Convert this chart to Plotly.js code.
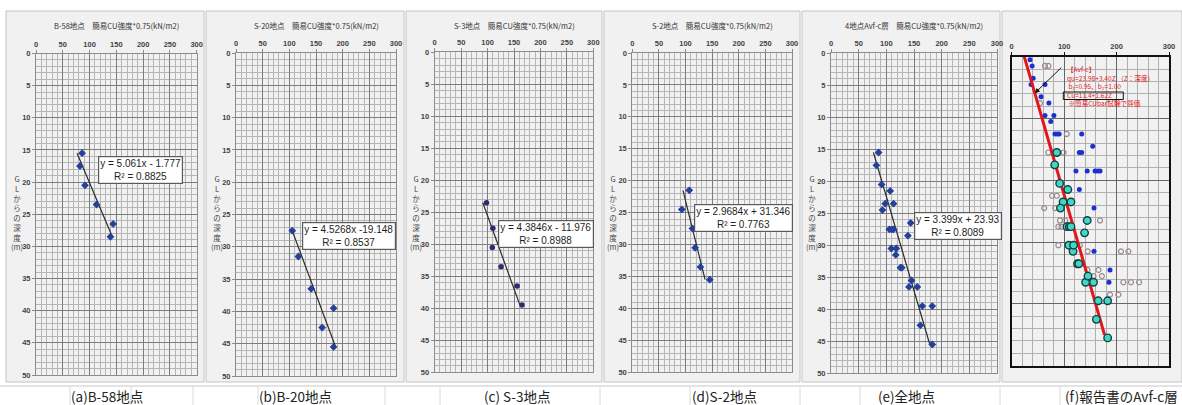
<!DOCTYPE html>
<html>
<head>
<meta charset="utf-8">
<script src="https://cdn.plot.ly/plotly-3.0.1.min.js"></script>
<style>
html,body{margin:0;padding:0;background:#ffffff;}
#chart{width:1182px;height:405px;}
</style>
</head>
<body>
<div id="chart"></div>
<script>
// ---- Simple CU strength (kN/m2) vs depth below GL (m), per boring ----
const depthA = [15.5, 17.5, 20.5, 23.5, 26.5, 28.5];
const cuA    = [86, 82, 91.5, 113, 144, 139];
const depthB = [27.5, 31.5, 36.5, 39.5, 42.5, 45.5];
const cuB    = [105.5, 117, 141, 183, 161.5, 183];
const depthC = [23.5, 27.5, 30.5, 33.5, 36.5, 39.5];
const cuC    = [98, 110, 109, 125.5, 156, 165];
const depthD = [21.5, 24.5, 27.5, 30.5, 33.5, 35.5];
const cuD    = [107, 93, 113, 118, 128, 145.5];

// linear trendlines: strength = slope * depth + intercept
const slopes     = [5.061, 4.5268, 4.3846, 2.9684, 3.399];
const intercepts = [-1.777, -19.148, -11.976, 31.346, 23.93];
const r2Values   = ['0.8825', '0.8537', '0.8988', '0.7763', '0.8089'];
const eqTexts    = ['y = 5.061x - 1.777', 'y = 4.5268x -19.148', 'y = 4.3846x - 11.976',
                    'y = 2.9684x + 31.346', 'y = 3.399x + 23.93'];

const panelTitles = ['B-58地点　簡易CU強度*0.75(kN/m2)', 'S-20地点　簡易CU強度*0.75(kN/m2)',
                     'S-3地点　簡易CU強度*0.75(kN/m2)', 'S-2地点　簡易CU強度*0.75(kN/m2)',
                     '4地点Avf-c層　簡易CU強度*0.75(kN/m2)'];
const captions = ['(a)B-58地点', '(b)B-20地点', '(c) S-3地点', '(d)S-2地点', '(e)全地点', '(f)報告書のAvf-c層'];
const yLabelText = 'G<br>L<br>か<br>ら<br>の<br>深<br>度<br>(m)';

// report chart (f): other test results
const blueDepth = [0.5, 1.5, 3.5, 4.5, 4.5, 6.5, 7.5, 9.5, 9.5, 10.5, 12.5, 12.5, 12.5, 12.5, 14.5,
                   15.5, 15.5, 18.5, 18.5, 18.5, 18.5, 18.5, 21.5, 24.5, 31.5, 34.5, 36.5];
const blueQu    = [35, 39, 41, 37, 63.5, 56, 71, 63.5, 80.5, 74.5, 82.5, 87, 90.5, 133.5, 154.5,
                   129, 133.5, 122.5, 144, 159, 164, 168.5, 129, 157, 157, 187.5, 185.5];
const grayDepth = [1.5, 1.5, 7.5, 12.5, 15.5, 15.5, 22.5, 22.5, 24.5, 24.5, 26.5, 26.5, 26.5, 27.5, 27.5,
                   30.5, 30.5, 31.5, 31.5, 31.5, 34.5, 34.5, 35.5, 35.5, 36.5, 36.5, 36.5, 38.5, 38.5];
const grayQu    = [63.5, 70, 54, 105, 70, 99, 77, 86, 62, 83, 92, 102, 168.5, 89, 95,
                   89, 130, 145, 208.5, 222.5, 144.5, 165.5, 156, 172, 213, 227.5, 243, 187.5, 203.5];
// report design line qu = 23.98 + 3.402 Z
const designIntercept = 23.98;
const designSlope = 3.402;
const designDepthRange = [0, 45];
const reportNotes = ['【Avf-c】', 'qu=23.98+3.40Z （Z：深度）', ' b₁=0.95、b₂=1.00',
                     'Cu=11.4+1.62Z', ' ※簡易CUbar試験で評価'];

// ---- layout geometry (pixels) ----
const W = 1182, H = 405;
const px = v => v / W;
const py = v => 1 - v / H;
const boxes = [
  {l: 36,    r: 196.7, t: 53.5, b: 375},
  {l: 236,   r: 396,   t: 53,   b: 376},
  {l: 434.7, r: 593.3, t: 52.3, b: 372.3},
  {l: 632.3, r: 792,   t: 53,   b: 372.3},
  {l: 831,   r: 997,   t: 53.3, b: 373.3},
  {l: 1011.7, r: 1169, t: 56.7, b: 365.7}
];
const eqBoxCenters = [[140.8, 170], [348.8, 236], [545.5, 233.7], [743.8, 218.3], [957.5, 226]];
const captionCenters = [107, 295, 517, 724, 906];
const frames = [[6, 204], [206, 404], [406, 602], [604, 800], [802, 1000], [1002, 1182]];
const captionCellLines = [70, 131, 193, 258, 385, 440, 600, 690, 800, 860, 1000, 1060];

const depthSets = [depthA, depthB, depthC, depthD, [].concat(depthA, depthB, depthC, depthD)];
const cuSets    = [cuA, cuB, cuC, cuD, [].concat(cuA, cuB, cuC, cuD)];

const axisFont = {family: 'Liberation Sans, Arial, sans-serif', size: 7.5, color: '#444', weight: 'bold'};
const jpFont = 'Noto Sans CJK JP, sans-serif';

const traces = [];
const layout = {
  width: W, height: H,
  margin: {l: 0, r: 0, t: 0, b: 0},
  paper_bgcolor: '#ffffff',
  plot_bgcolor: '#ffffff',
  showlegend: false,
  annotations: [],
  shapes: []
};

function axName(i, c) { return c + (i === 0 ? '' : String(i + 1)); }

// free-standing text placed by its centre in pixel coordinates
function label(x, y, text, font, extra) {
  layout.annotations.push(Object.assign({
    xref: 'paper', yref: 'paper', x: px(x), y: py(y),
    xanchor: 'center', yanchor: 'middle',
    text: text, showarrow: false, font: font
  }, extra || {}));
}

// panel frames and caption row
frames.forEach((f) => {
  layout.shapes.push({type: 'rect', xref: 'paper', yref: 'paper', layer: 'below',
    x0: px(f[0]), x1: px(f[1]), y0: py(382), y1: py(11),
    fillcolor: '#f1f1f1', line: {color: '#c4c4c4', width: 1}});
});
layout.shapes.push({type: 'line', xref: 'paper', yref: 'paper', layer: 'below',
  x0: 0, x1: 1, y0: py(386), y1: py(386), line: {color: '#c8c8c8', width: 1}});
captionCellLines.forEach((x) => {
  layout.shapes.push({type: 'line', xref: 'paper', yref: 'paper', layer: 'below',
    x0: px(x), x1: px(x), y0: py(405), y1: py(386), line: {color: '#dadada', width: 1}});
});

for (let i = 0; i < 6; i++) {
  const bx = boxes[i];
  const isReport = i === 5;
  const xa = {
    domain: [px(bx.l), px(bx.r)], range: [0, 300], side: 'top', anchor: axName(i, 'y'),
    dtick: isReport ? 100 : 50, tick0: 0,
    showgrid: true, gridcolor: isReport ? '#666' : '#7c7c7c', gridwidth: 1,
    minor: {dtick: isReport ? 20 : 10, showgrid: true, gridcolor: isReport ? '#b0b0b0' : '#b6b6b6', gridwidth: 1},
    showline: true, mirror: true, linecolor: isReport ? '#111' : '#8c8c8c', linewidth: isReport ? 2 : 1,
    ticks: 'outside', ticklen: 3, tickcolor: isReport ? '#111' : '#8c8c8c',
    tickfont: axisFont, zeroline: false, fixedrange: true
  };
  const ya = {
    domain: [py(bx.b), py(bx.t)], range: [50, 0], anchor: axName(i, 'x'),
    dtick: isReport ? 10 : 5, tick0: 0,
    showgrid: true, gridcolor: isReport ? '#666' : '#7c7c7c', gridwidth: 1,
    minor: {dtick: isReport ? 2 : 1, showgrid: true, gridcolor: isReport ? '#b0b0b0' : '#b6b6b6', gridwidth: 1},
    showline: true, mirror: true, linecolor: isReport ? '#111' : '#8c8c8c', linewidth: isReport ? 2 : 1,
    ticks: isReport ? '' : 'outside', ticklen: 3, tickcolor: '#8c8c8c',
    showticklabels: !isReport,
    tickfont: axisFont, zeroline: false, fixedrange: true
  };
  layout['xaxis' + (i === 0 ? '' : i + 1)] = xa;
  layout['yaxis' + (i === 0 ? '' : i + 1)] = ya;
}

// panels (a)-(e): measured points + trendline + equation
for (let i = 0; i < 5; i++) {
  const d = depthSets[i], c = cuSets[i];
  const xr = axName(i, 'x'), yr = axName(i, 'y');
  const dMin = Math.min.apply(null, d), dMax = Math.max.apply(null, d);
  traces.push({
    type: 'scatter', mode: 'lines', xaxis: xr, yaxis: yr,
    x: [slopes[i] * dMin + intercepts[i], slopes[i] * dMax + intercepts[i]],
    y: [dMin, dMax],
    line: {color: '#2b2b2b', width: 1.2}, hoverinfo: 'skip'
  });
  traces.push({
    type: 'scatter', mode: 'markers', xaxis: xr, yaxis: yr,
    x: c, y: d,
    marker: i === 2
      ? {symbol: 'circle', size: 5.5, color: '#2a2d6e'}
      : {symbol: 'diamond', size: 6, color: '#24409a'}
  });
  const bx = boxes[i];
  label(bx.l + (bx.r - bx.l) / 2, 25, panelTitles[i], {family: jpFont, size: 7.5, color: '#333'});
  label(bx.l - 19, 212, yLabelText, {family: jpFont, size: 7.5, color: '#444'});
  label(eqBoxCenters[i][0], eqBoxCenters[i][1], eqTexts[i] + '<br>R² = ' + r2Values[i],
    {family: 'Liberation Sans, Arial, sans-serif', size: 10, color: '#1e1e1e'},
    {bgcolor: '#ffffff', bordercolor: '#5a5a5a', borderwidth: 1.2, borderpad: 1});
}

// panel (f): report chart
traces.push({
  type: 'scatter', mode: 'markers', xaxis: 'x6', yaxis: 'y6',
  x: grayQu, y: grayDepth,
  marker: {symbol: 'circle-open', size: 5, color: '#9a8a8e', line: {width: 1.2}}
});
traces.push({
  type: 'scatter', mode: 'markers', xaxis: 'x6', yaxis: 'y6',
  x: blueQu, y: blueDepth,
  marker: {symbol: 'circle', size: 5, color: '#1d2fd0'}
});
traces.push({
  type: 'scatter', mode: 'lines', xaxis: 'x6', yaxis: 'y6',
  x: designDepthRange.map(z => designIntercept + designSlope * z), y: designDepthRange,
  line: {color: '#e3161b', width: 3}
});
traces.push({
  type: 'scatter', mode: 'markers', xaxis: 'x6', yaxis: 'y6',
  x: cuSets[4], y: depthSets[4],
  marker: {symbol: 'circle', size: 7.5, color: '#3fd8c8', line: {color: '#17403d', width: 1.4}}
});

// arrow from the note to the design line
const arrowZ = 5.9;
layout.annotations.push({
  xref: 'x6', yref: 'y6', x: designIntercept + designSlope * arrowZ, y: arrowZ,
  ax: 28, ay: -27, text: '', showarrow: true,
  arrowhead: 2, arrowsize: 1, arrowwidth: 1, arrowcolor: '#111'
});
// note block (five lines) with the Cu formula framed
label(1065, 86.4, reportNotes.join('<br>'), {family: jpFont, size: 6.6, color: '#e3161b'},
  {xanchor: 'left', align: 'left'});
layout.shapes.push({type: 'rect', xref: 'paper', yref: 'paper',
  x0: px(1063.3), x1: px(1123.3), y0: py(99.5), y1: py(92),
  line: {color: '#111', width: 1}});

// captions under each panel
captions.slice(0, 5).forEach((t, k) => {
  label(captionCenters[k], 396, t, {family: jpFont, size: 13.5, color: '#222'});
});
label(1063, 396, captions[5], {family: jpFont, size: 13.5, color: '#222'}, {xanchor: 'left'});

Plotly.newPlot('chart', traces, layout, {displayModeBar: false, staticPlot: true});
</script>
</body>
</html>
